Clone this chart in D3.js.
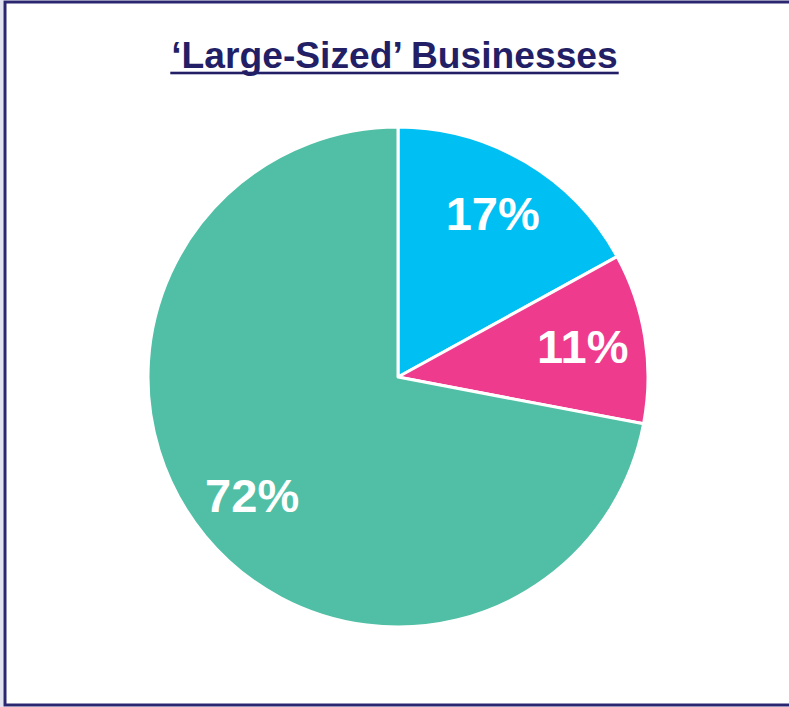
<!DOCTYPE html>
<html>
<head>
<meta charset="utf-8">
<script src="https://cdn.jsdelivr.net/npm/d3@7"></script>
<style>
  html, body { margin: 0; padding: 0; background: #ffffff; }
  svg { display: block; }
</style>
</head>
<body>
<svg id="chart" width="789" height="707"></svg>
<script>
// Share of large-sized businesses by group
const titleText = "\u2018Large-Sized\u2019 Businesses";
const categories = ["Group A", "Group B", "Group C"];
const shares = [17, 11, 72];
const labels = ["17%", "11%", "72%"];
const colors = ["#00C0F3", "#EE3B8D", "#50BFA5"];

const W = 789, H = 707;
const svg = d3.select("#chart");

// Frame
svg.append("rect")
  .attr("x", 0).attr("y", 0).attr("width", 3.5).attr("height", H)
  .attr("fill", "#e2e3f1");
svg.append("rect")
  .attr("x", 5).attr("y", 2)
  .attr("width", W + 20).attr("height", 703)
  .attr("fill", "none")
  .attr("stroke", "#2a2770")
  .attr("stroke-width", 3);

// Title with underline
const title = svg.append("text")
  .attr("x", 394.5).attr("y", 67.5)
  .attr("text-anchor", "middle")
  .attr("font-family", "'Liberation Sans', Arial, sans-serif")
  .attr("font-weight", "bold")
  .attr("font-size", 37.2)
  .attr("fill", "#231f66")
  .text(titleText);
const tb = title.node().getBBox();
svg.append("rect")
  .attr("x", tb.x - 1).attr("y", 71.7)
  .attr("width", tb.width + 2).attr("height", 2.6)
  .attr("fill", "#231f66");

// Pie
const cx = 398, cy = 377, r = 250, labelR = 188;
const data = categories.map((c, i) => ({ cat: c, value: shares[i], label: labels[i], color: colors[i] }));
const pie = d3.pie().sort(null).value(d => d.value);
const arc = d3.arc().innerRadius(0).outerRadius(r);
const labelArc = d3.arc().innerRadius(labelR).outerRadius(labelR);

const g = svg.append("g").attr("transform", `translate(${cx},${cy})`);
const arcs = pie(data);

g.selectAll("path.slice")
  .data(arcs)
  .join("path")
  .attr("class", "slice")
  .attr("d", arc)
  .attr("fill", d => d.data.color)
  .attr("stroke", "#ffffff")
  .attr("stroke-width", 3)
  .attr("stroke-linejoin", "round");

g.selectAll("text.lbl")
  .data(arcs)
  .join("text")
  .attr("class", "lbl")
  .attr("transform", d => {
    const [x, y] = labelArc.centroid(d);
    return `translate(${x - 1},${y + 15})`;
  })
  .attr("text-anchor", "middle")
  .attr("font-family", "'Liberation Sans', Arial, sans-serif")
  .attr("font-weight", "bold")
  .attr("font-size", 47)
  .attr("fill", "#ffffff")
  .text(d => d.data.label);
</script>
</body>
</html>
